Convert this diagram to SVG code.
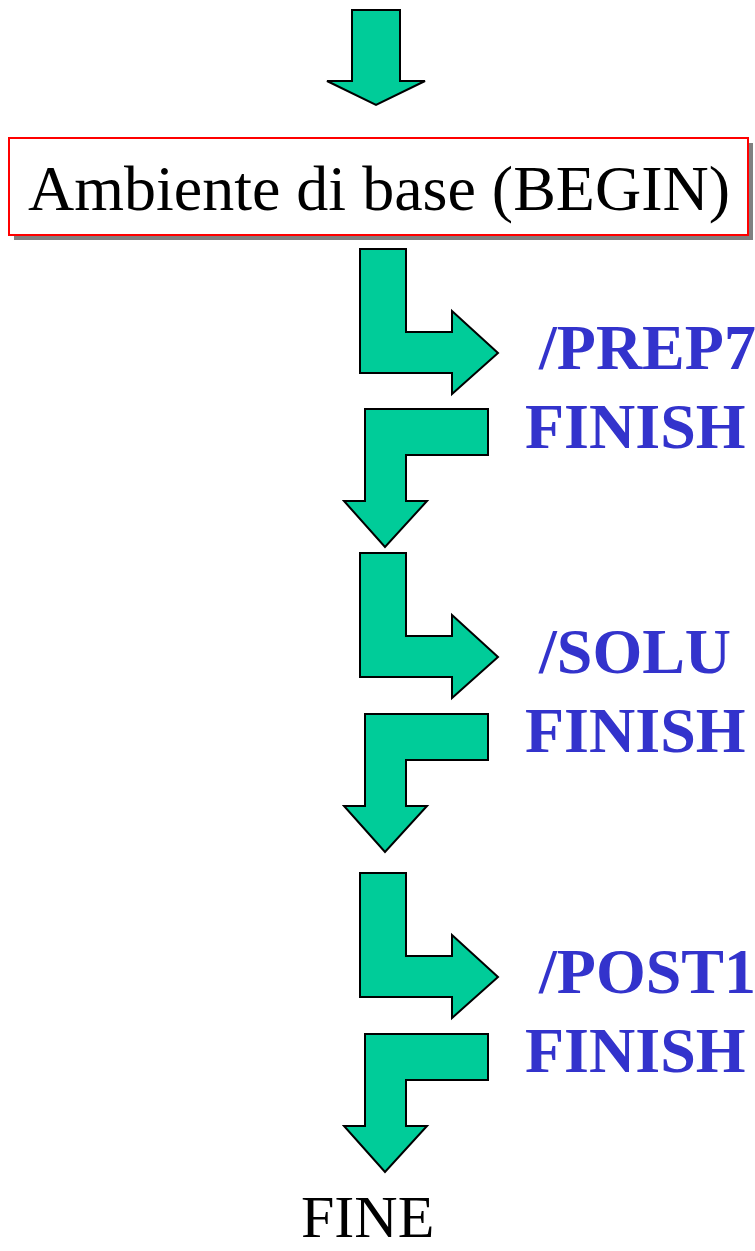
<svg xmlns="http://www.w3.org/2000/svg" width="755" height="1251" viewBox="0 0 755 1251">
  <style>
    .arrow { fill: #00CC99; stroke: #000000; stroke-width: 2; stroke-linejoin: miter; }
    .cmd { font-family: "Liberation Serif", "Times New Roman", serif; font-weight: bold; font-size: 64px; fill: #3333CC; }
    .plain { font-family: "Liberation Serif", "Times New Roman", serif; fill: #000000; }
  </style>
  <defs>
    <!-- L-shaped arrow turning right -->
    <path id="turnRight" d="M360,249 L406,249 L406,332 L452,332 L452,311 L498,353 L452,394 L452,373 L360,373 Z"/>
    <!-- L-shaped arrow turning down -->
    <path id="turnDown" d="M488,409 L488,455 L406,455 L406,501 L427,501 L385,547 L344,501 L365,501 L365,409 Z"/>
  </defs>

  <g id="connectors">
    <path class="arrow" d="M352,10 L400,10 L400,81 L425,81 L376,105 L327,81 L352,81 Z"/>
    <use class="arrow" href="#turnRight"/>
    <use class="arrow" href="#turnDown"/>
    <use class="arrow" href="#turnRight" transform="translate(0,304)"/>
    <use class="arrow" href="#turnDown" transform="translate(0,305)"/>
    <use class="arrow" href="#turnRight" transform="translate(0,624)"/>
    <use class="arrow" href="#turnDown" transform="translate(0,625)"/>
  </g>

  <g id="begin">
    <rect x="14" y="143" width="739" height="97" fill="#808080"/>
    <rect x="9" y="138" width="739" height="97" fill="#FFFFFF" stroke="#FF0000" stroke-width="2"/>
    <text class="plain" x="379" y="210" font-size="64" text-anchor="middle">Ambiente di base (BEGIN)</text>
  </g>

  <g id="prep7">
    <text class="cmd" x="539" y="369">/PREP7</text>
    <text class="cmd" x="525" y="448">FINISH</text>
  </g>

  <g id="solu">
    <text class="cmd" x="539" y="673">/SOLU</text>
    <text class="cmd" x="525" y="752">FINISH</text>
  </g>

  <g id="post1">
    <text class="cmd" x="539" y="993">/POST1</text>
    <text class="cmd" x="525" y="1072">FINISH</text>
  </g>

  <g id="fine">
    <text class="plain" x="301" y="1237" font-size="60">FINE</text>
  </g>
</svg>
